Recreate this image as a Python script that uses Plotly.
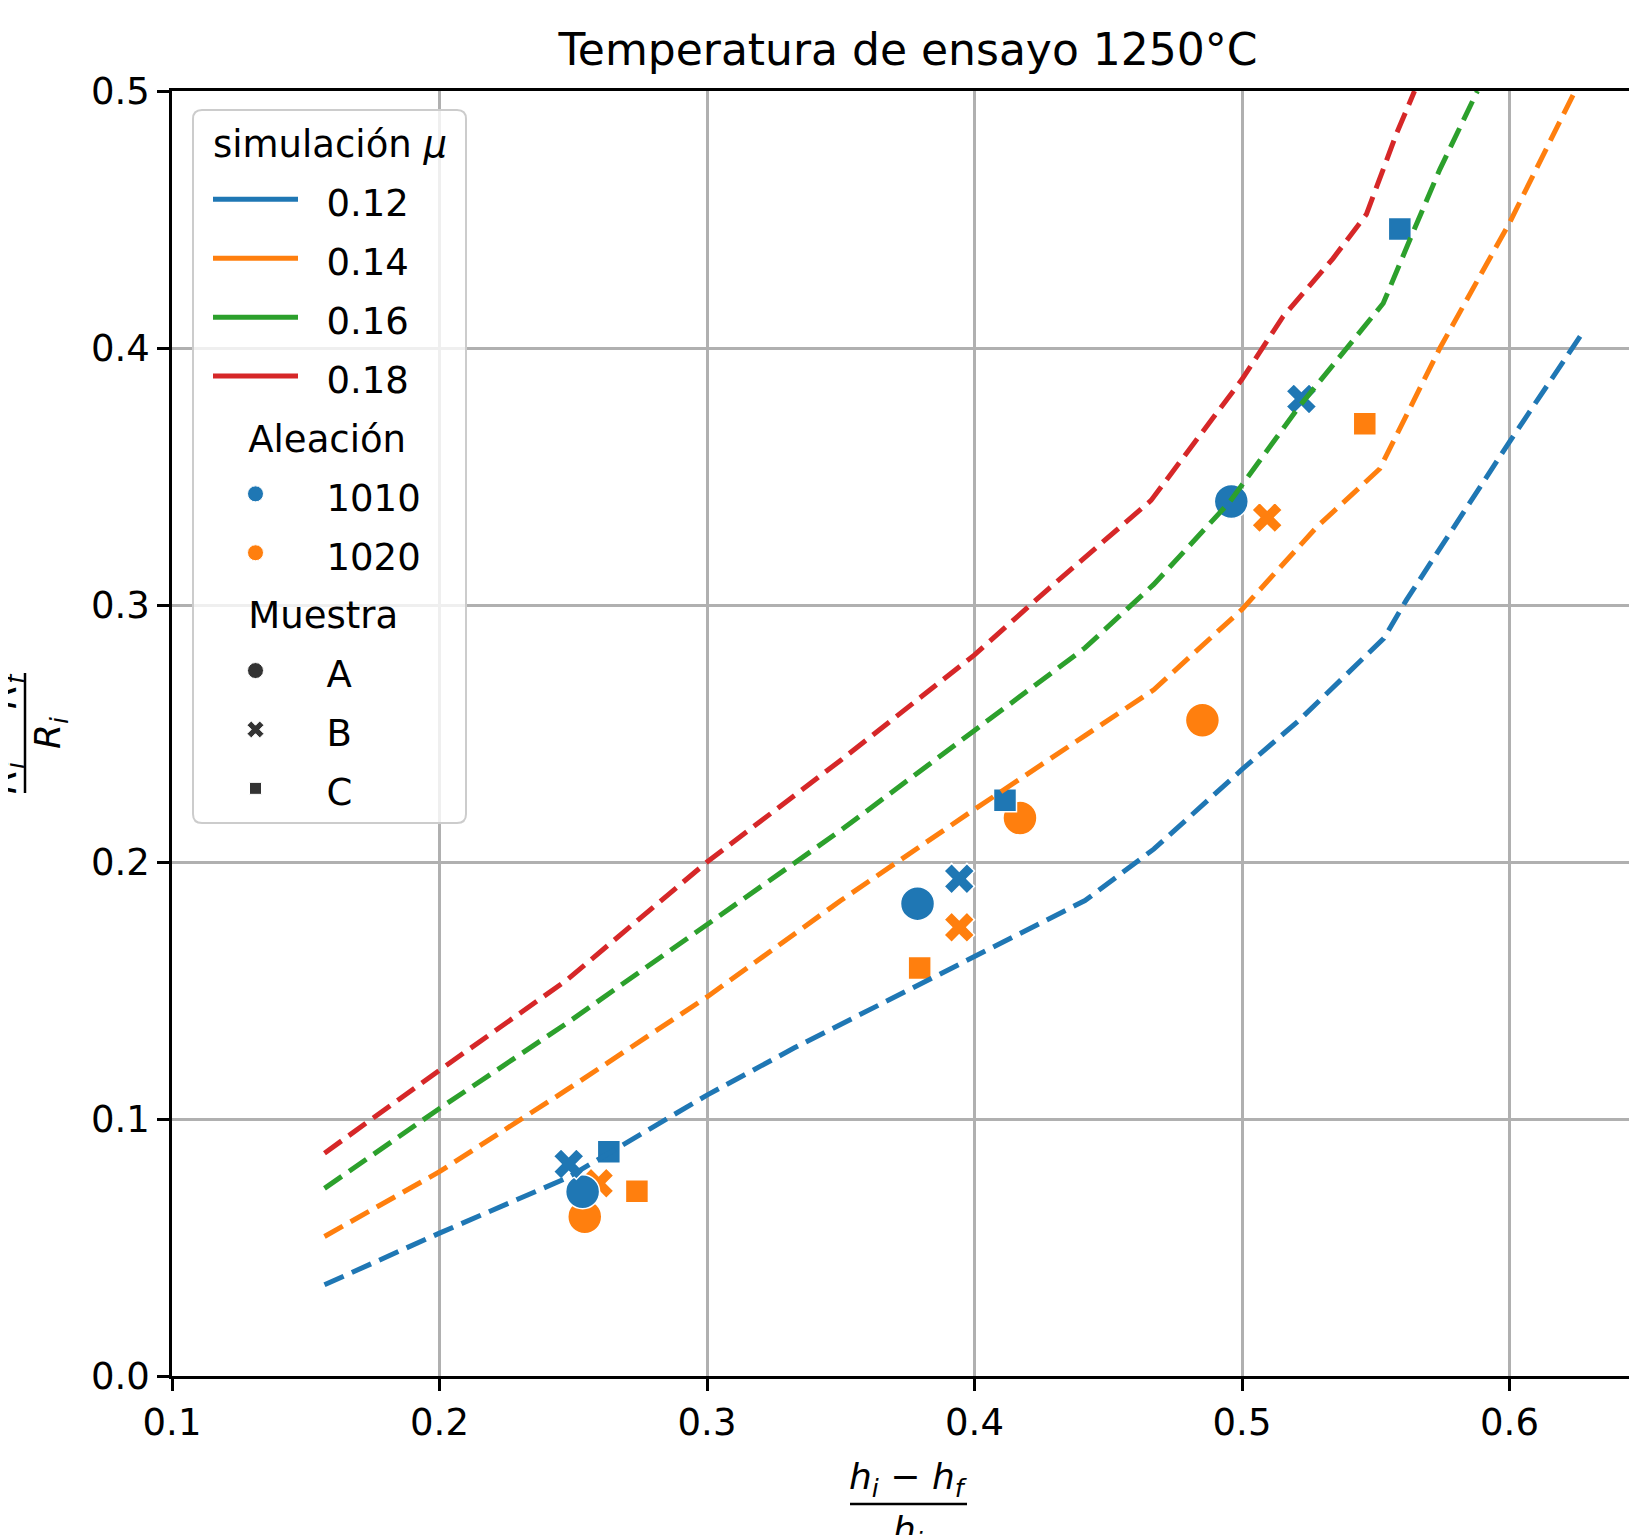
import plotly.graph_objects as go

# ---------------- data ----------------
mu_values = ["0.12", "0.14", "0.16", "0.18"]
mu_colors = ["#1f77b4", "#ff7f0e", "#2ca02c", "#d62728"]

sim_x_012 = [0.157, 0.200, 0.2475, 0.300, 0.3325, 0.400, 0.4413, 0.467, 0.500, 0.5215, 0.553, 0.5615, 0.600, 0.628]
sim_y_012 = [0.0355, 0.0556, 0.0770, 0.1093, 0.1276, 0.1631, 0.1850, 0.2050, 0.2360, 0.2553, 0.2870, 0.3020, 0.3635, 0.4070]

sim_x_014 = [0.157, 0.200, 0.2475, 0.300, 0.350, 0.400, 0.4413, 0.467, 0.500, 0.528, 0.5515, 0.574, 0.600, 0.6245]
sim_y_014 = [0.0543, 0.0795, 0.1113, 0.1475, 0.1850, 0.2205, 0.2492, 0.2670, 0.2983, 0.3304, 0.3530, 0.4000, 0.4487, 0.5000]

sim_x_016 = [0.157, 0.200, 0.2475, 0.300, 0.350, 0.400, 0.4413, 0.467, 0.4953, 0.5215, 0.5528, 0.564, 0.574, 0.588]
sim_y_016 = [0.0730, 0.1041, 0.1372, 0.1755, 0.2123, 0.2512, 0.2833, 0.3080, 0.3400, 0.3774, 0.4174, 0.4452, 0.4696, 0.5000]

sim_x_018 = [0.157, 0.200, 0.2475, 0.300, 0.350, 0.400, 0.428, 0.466, 0.500, 0.5153, 0.534, 0.5465, 0.5578, 0.5645]
sim_y_018 = [0.0867, 0.1190, 0.1540, 0.2000, 0.2396, 0.2806, 0.3066, 0.3407, 0.3878, 0.4122, 0.4348, 0.4520, 0.4835, 0.5000]

sim_x = [sim_x_012, sim_x_014, sim_x_016, sim_x_018]
sim_y = [sim_y_012, sim_y_014, sim_y_016, sim_y_018]

alloys = ["1010", "1020"]
alloy_colors = ["#1f77b4", "#ff7f0e"]
samples = ["A", "B", "C"]
sample_symbols = ["circle", "x", "square"]
sample_sizes = [34, 27, 23]

# experimental points: [alloy][sample]
exp_x_1010_A = [0.2535, 0.3787, 0.4960]
exp_y_1010_A = [0.0717, 0.1838, 0.3403]
exp_x_1010_B = [0.2483, 0.3943, 0.5222]
exp_y_1010_B = [0.0825, 0.1935, 0.3802]
exp_x_1010_C = [0.2633, 0.4114, 0.5590]
exp_y_1010_C = [0.0873, 0.2240, 0.4463]
exp_x_1020_A = [0.2543, 0.4170, 0.4852]
exp_y_1020_A = [0.0620, 0.2171, 0.2552]
exp_x_1020_B = [0.2595, 0.3943, 0.5094]
exp_y_1020_B = [0.0750, 0.1746, 0.3340]
exp_x_1020_C = [0.2738, 0.3795, 0.5459]
exp_y_1020_C = [0.0719, 0.1588, 0.3705]

exp_x = {"1010": [exp_x_1010_A, exp_x_1010_B, exp_x_1010_C],
         "1020": [exp_x_1020_A, exp_x_1020_B, exp_x_1020_C]}
exp_y = {"1010": [exp_y_1010_A, exp_y_1010_B, exp_y_1010_C],
         "1020": [exp_y_1020_A, exp_y_1020_B, exp_y_1020_C]}

x_ticks = [0.1, 0.2, 0.3, 0.4, 0.5, 0.6]
y_ticks = [0.0, 0.1, 0.2, 0.3, 0.4, 0.5]

title_text = "Temperatura de ensayo 1250°C"

# ---------------- geometry (page pixels; body margin 8px) ----------------
OFF = 8
PAGE_W, PAGE_H = 1637, 1535
W, H = PAGE_W - OFF, PAGE_H - OFF
PLOT_L, PLOT_T, PLOT_B = 172, 91, 1376   # page px
L = PLOT_L - OFF
T = PLOT_T - OFF
B = H - (PLOT_B - OFF)
R = 0
pw = W - L - R
ph = H - T - B

FONT = "DejaVu Sans"
TXT = 37
ROWF = 43  # legend row height driver
NB = "\u00a0"


def px_x(px):
    return (px - OFF - L) / pw


def px_y(py):
    return (H - B - (py - OFF)) / ph


fig = go.Figure()

# experimental scatter: orange first, blue on top
for ai in [1, 0]:
    a = alloys[ai]
    for si, s in enumerate(samples):
        fig.add_trace(go.Scatter(
            x=exp_x[a][si], y=exp_y[a][si], mode="markers",
            marker=dict(symbol=sample_symbols[si], size=sample_sizes[si],
                        color=alloy_colors[ai], line=dict(color="white", width=1.5)),
            showlegend=False, hoverinfo="x+y"))

# simulation lines (dashed, drawn on top)
for i, mu in enumerate(mu_values):
    fig.add_trace(go.Scatter(
        x=sim_x[i], y=sim_y[i], mode="lines",
        line=dict(color=mu_colors[i], width=5, dash="21px,9px"),
        showlegend=False))


def lab(t, pre=2):
    return f'<span style="font-size:{TXT}px">{NB * pre}{t}</span>'


# legend entries
for i, mu in enumerate(mu_values):
    fig.add_trace(go.Scatter(
        x=[None], y=[None], mode="lines", name=lab(mu),
        line=dict(color=mu_colors[i], width=5),
        legendgroup="sim",
        legendgrouptitle=dict(text=lab("simulación <i>μ</i>", 0),
                              font=dict(size=ROWF, family=FONT, color="black"))))
for ai, a in enumerate(alloys):
    fig.add_trace(go.Scatter(
        x=[None], y=[None], mode="markers", name=lab(a),
        marker=dict(symbol="circle", size=16, color=alloy_colors[ai], line=dict(color="white", width=1)),
        legendgroup="alloy",
        legendgrouptitle=dict(text=lab("Aleación", 3),
                              font=dict(size=ROWF, family=FONT, color="black"))))
for si, s in enumerate(samples):
    fig.add_trace(go.Scatter(
        x=[None], y=[None], mode="markers", name=lab(s),
        marker=dict(symbol=sample_symbols[si], size=16 if si == 0 else (15 if si == 1 else 12),
                    color="#333333", line=dict(color="white", width=1)),
        legendgroup="sample",
        legendgrouptitle=dict(text=lab("Muestra", 3),
                              font=dict(size=ROWF, family=FONT, color="black"))))

x_max = 0.1 + 0.1 * (pw / 267.5)

fig.update_layout(
    width=W, height=H,
    margin=dict(l=L, r=R, t=T, b=B, pad=0),
    paper_bgcolor="white", plot_bgcolor="white",
    font=dict(family=FONT, size=TXT, color="black"),
    title=dict(text=title_text, font=dict(family=FONT, size=44, color="black"),
               x=(908 - OFF) / W, xref="container", xanchor="center",
               y=1 - (50 - OFF) / H, yref="container", yanchor="middle"),
    showlegend=True,
    legend=dict(
        x=px_x(208), y=px_y(106), xanchor="left", yanchor="top",
        bgcolor="rgba(0,0,0,0)", borderwidth=0,
        font=dict(family=FONT, size=ROWF, color="black"),
        tracegroupgap=0, itemwidth=85, traceorder="grouped",
    ),
    xaxis=dict(
        range=[0.1, x_max], tickvals=x_ticks, tickformat=".1f",
        showgrid=True, gridcolor="#b0b0b0", gridwidth=2.5,
        showline=True, linecolor="black", linewidth=2.5, mirror=True,
        ticks="outside", ticklen=12, tickwidth=2.5, tickcolor="black",
        zeroline=False, tickfont=dict(size=TXT, family=FONT, color="black"),
    ),
    yaxis=dict(
        range=[0, 0.5], tickvals=y_ticks, tickformat=".1f",
        showgrid=True, gridcolor="#b0b0b0", gridwidth=2.5,
        showline=True, linecolor="black", linewidth=2.5, mirror=False,
        ticks="outside", ticklen=12, tickwidth=2.5, tickcolor="black",
        zeroline=False, tickfont=dict(size=TXT, family=FONT, color="black"),
    ),
)

# legend frame (rounded, semi-transparent) drawn as a shape behind the legend
bx0, by0, bx1, by1 = px_x(193), px_y(110), px_x(466), px_y(823)
rx, ry = 9 / pw, 9 / ph
frame = (f"M {bx0 + rx},{by0} L {bx1 - rx},{by0} Q {bx1},{by0} {bx1},{by0 - ry} "
         f"L {bx1},{by1 + ry} Q {bx1},{by1} {bx1 - rx},{by1} "
         f"L {bx0 + rx},{by1} Q {bx0},{by1} {bx0},{by1 + ry} "
         f"L {bx0},{by0 - ry} Q {bx0},{by0} {bx0 + rx},{by0} Z")
fig.add_shape(type="path", path=frame, xref="paper", yref="paper", layer="above",
              fillcolor="rgba(255,255,255,0.8)", line=dict(color="#cccccc", width=2))

# axis titles as fractions
MF = 36
fig.add_annotation(text="<i>h<sub>i</sub> − h<sub>f</sub></i>", xref="paper", yref="paper",
                   x=px_x(908), y=px_y(1479), showarrow=False, xanchor="center", yanchor="middle",
                   font=dict(size=MF, family=FONT, color="black"))
fig.add_shape(type="line", xref="paper", yref="paper", x0=px_x(850), x1=px_x(967),
              y0=px_y(1504), y1=px_y(1504), line=dict(color="black", width=2.5))
fig.add_annotation(text="<i>h<sub>i</sub></i>", xref="paper", yref="paper",
                   x=px_x(908), y=px_y(1532), showarrow=False, xanchor="center", yanchor="middle",
                   font=dict(size=MF, family=FONT, color="black"))

fig.add_annotation(text="<i>R<sub>i</sub> − R<sub>f</sub></i>", xref="paper", yref="paper",
                   x=px_x(6), y=px_y(733), showarrow=False, xanchor="center", yanchor="middle",
                   textangle=-90, font=dict(size=MF, family=FONT, color="black"))
fig.add_shape(type="line", xref="paper", yref="paper", x0=px_x(25), x1=px_x(25),
              y0=px_y(673), y1=px_y(793), line=dict(color="black", width=2.5))
fig.add_annotation(text="<i>R<sub>i</sub></i>", xref="paper", yref="paper",
                   x=px_x(50), y=px_y(733), showarrow=False, xanchor="center", yanchor="middle",
                   textangle=-90, font=dict(size=MF, family=FONT, color="black"))

fig.write_html("out.html")
